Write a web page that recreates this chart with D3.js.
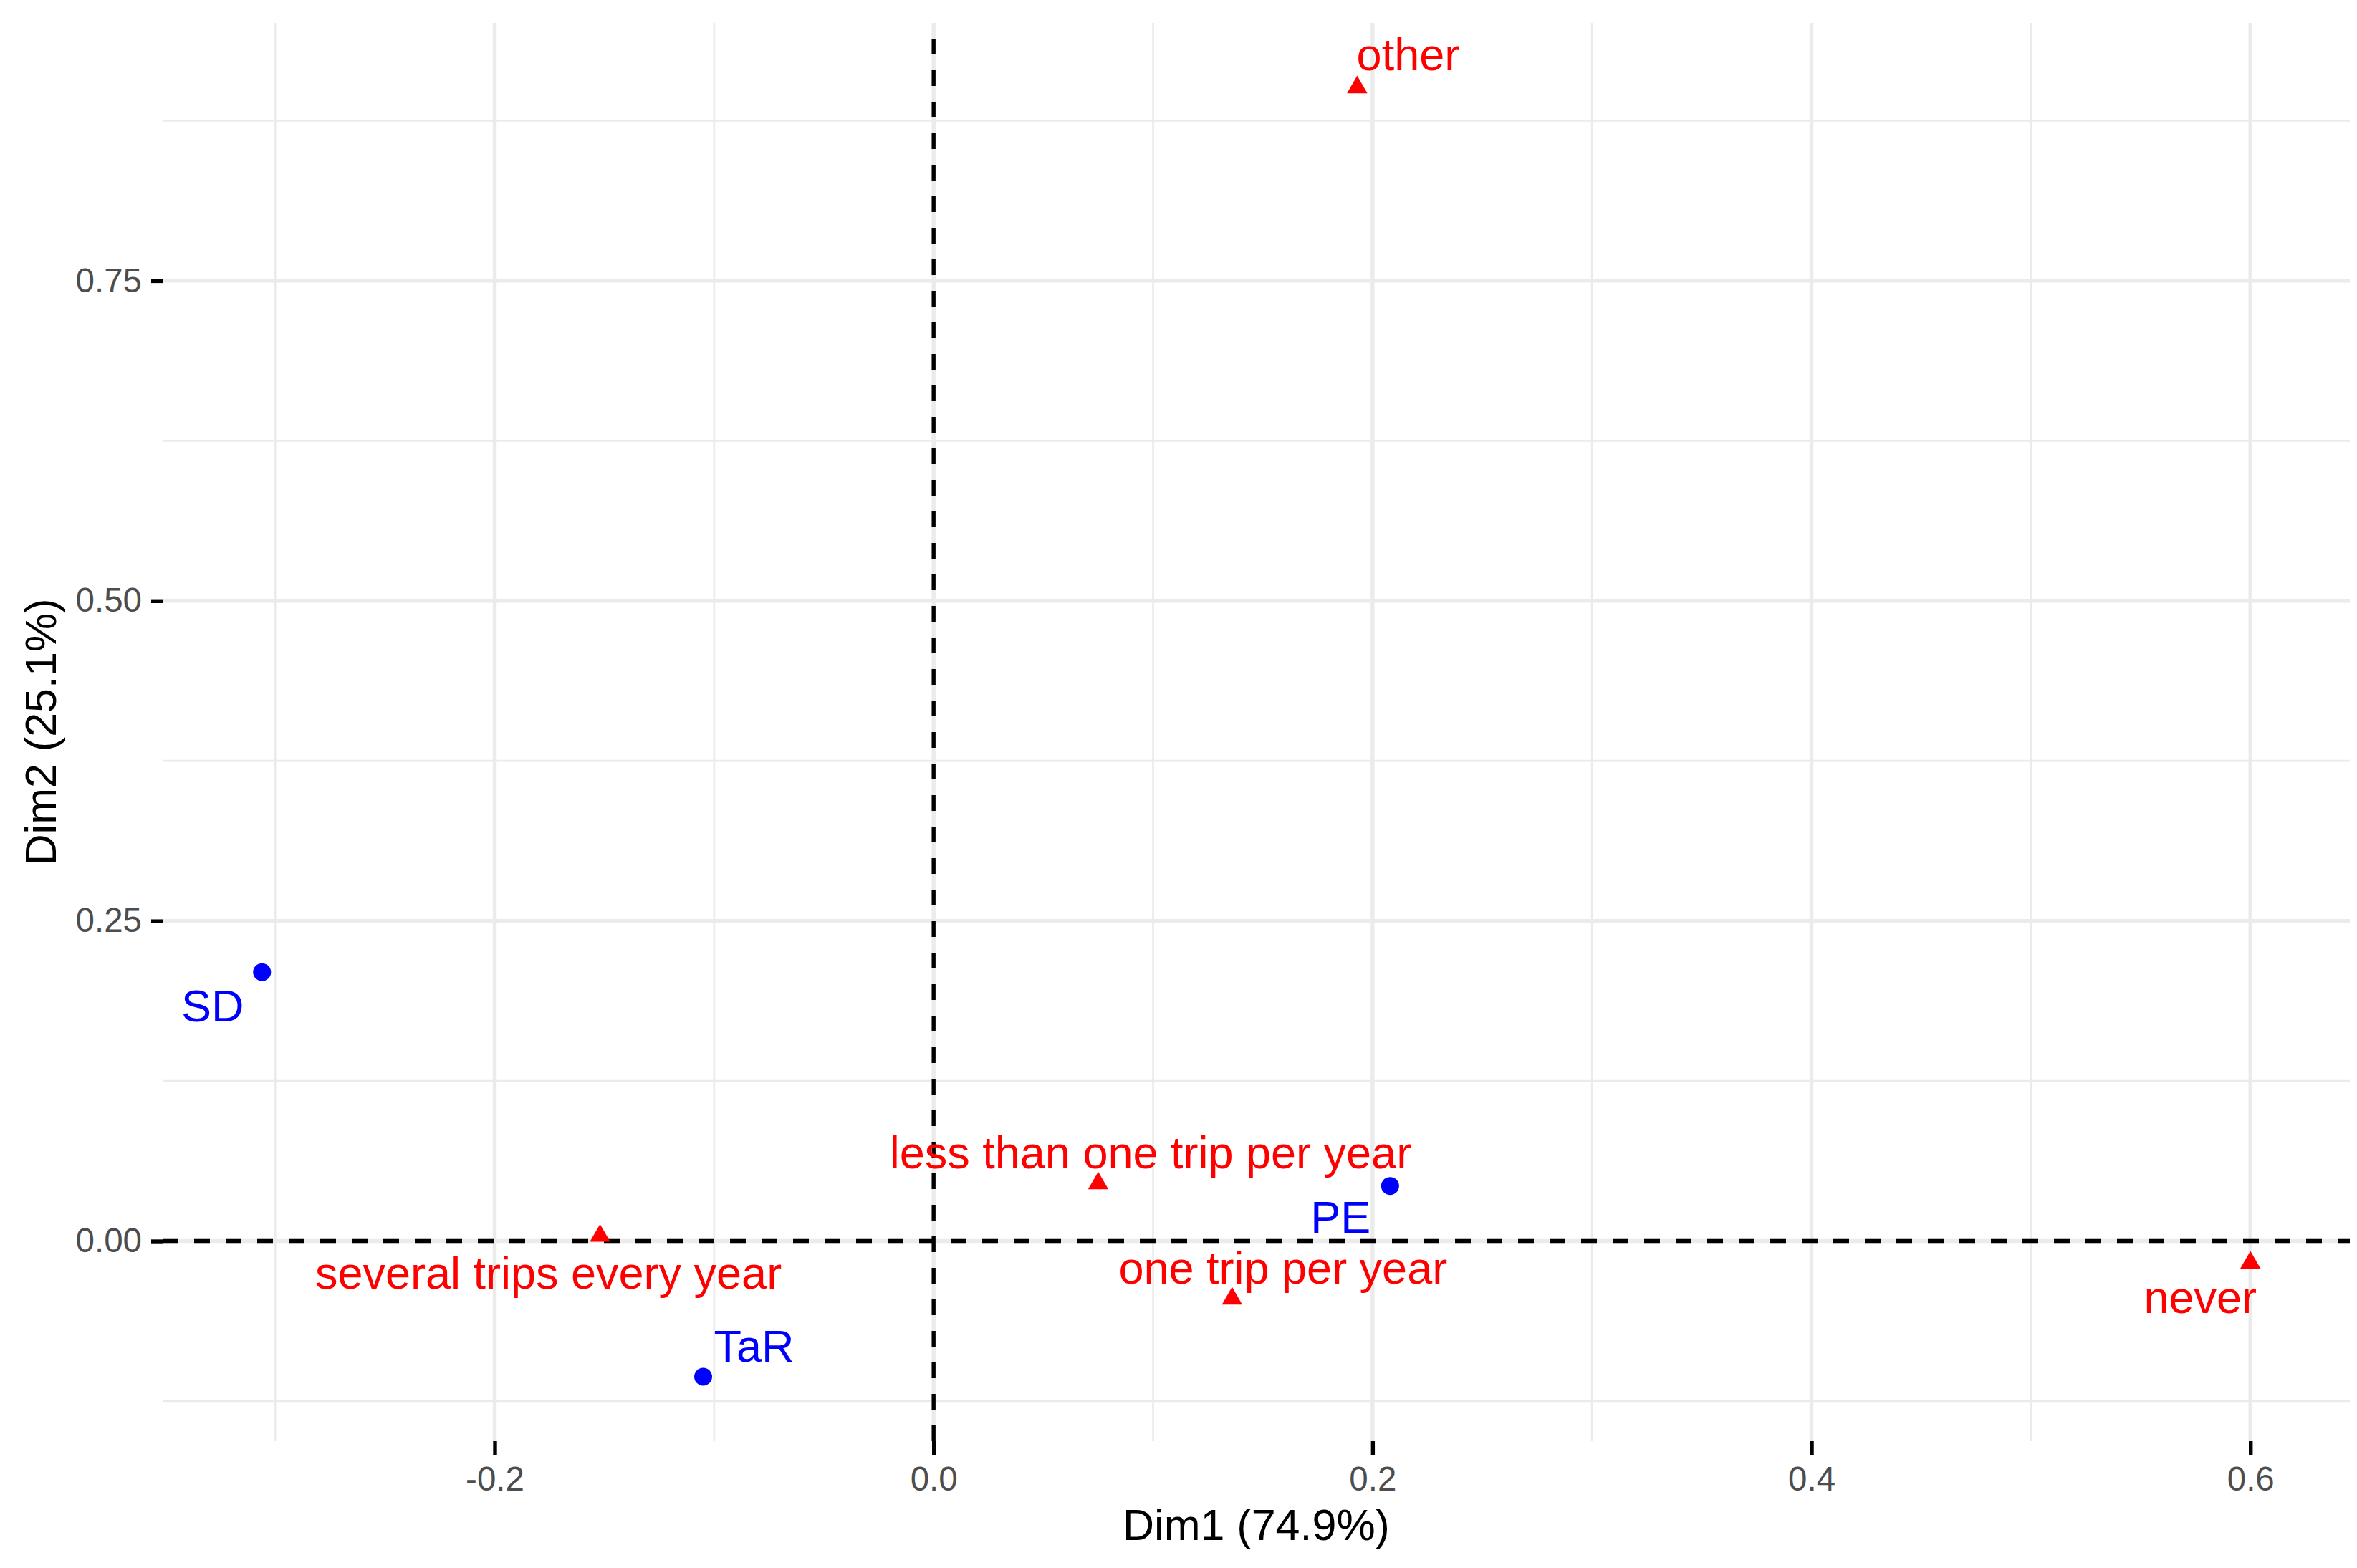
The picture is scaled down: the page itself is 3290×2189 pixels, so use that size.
<!DOCTYPE html>
<html>
<head>
<meta charset="utf-8">
<script src="https://cdn.jsdelivr.net/npm/d3@7"></script>
<style>
  html, body { margin: 0; padding: 0; background: #ffffff; }
  svg { display: block; }
  text { font-family: "Liberation Sans", Arial, Helvetica, sans-serif; }
</style>
</head>
<body>
<script>
// ---------------- data ----------------
const colLabels = ["SD", "TaR", "PE"];
const colX = [-0.306, -0.105, 0.208];
const colY = [0.210, -0.106, 0.043];

const rowLabels = ["other", "less than one trip per year", "several trips every year", "one trip per year", "never"];
const rowX = [0.193, 0.075, -0.152, 0.136, 0.600];
const rowY = [0.901, 0.045, 0.004, -0.045, -0.017];

const xTicks = [-0.2, 0.0, 0.2, 0.4, 0.6];
const xTickLabels = ["-0.2", "0.0", "0.2", "0.4", "0.6"];
const xMinor = [-0.3, -0.1, 0.1, 0.3, 0.5];
const yTicks = [0.0, 0.25, 0.50, 0.75];
const yTickLabels = ["0.00", "0.25", "0.50", "0.75"];
const yMinor = [-0.125, 0.125, 0.375, 0.625, 0.875];

const xTitle = "Dim1 (74.9%)";
const yTitle = "Dim2 (25.1%)";

// ---------------- layout ----------------
const W = 3290, H = 2189;
const panel = { left: 227, right: 3280, top: 32, bottom: 2012 };
// label offsets (pixels, relative to the point: center-x, baseline)
const colLabelOffset = [[-69, 69], [71, -21], [-69, 65]];
const rowLabelOffset = [[71, -24], [73, -21], [-72, 74], [71, -21], [-70, 70]];

const RED = "#FF0000", BLUE = "#0000FF", GRID = "#EBEBEB";

function expand(vals) {
  const lo = d3.min(vals), hi = d3.max(vals), r = hi - lo;
  return [lo - 0.05 * r, hi + 0.05 * r];
}
const x = d3.scaleLinear().domain(expand(colX.concat(rowX))).range([panel.left, panel.right]);
const y = d3.scaleLinear().domain(expand(colY.concat(rowY))).range([panel.bottom, panel.top]);

const svg = d3.select("body").append("svg").attr("width", W).attr("height", H);
svg.append("rect").attr("width", W).attr("height", H).attr("fill", "#fff");

const grid = svg.append("g");
// minor grid
grid.selectAll(".xminor").data(xMinor).enter().append("line")
  .attr("x1", d => x(d)).attr("x2", d => x(d)).attr("y1", panel.top).attr("y2", panel.bottom)
  .attr("stroke", GRID).attr("stroke-width", 2.7);
grid.selectAll(".yminor").data(yMinor).enter().append("line")
  .attr("y1", d => y(d)).attr("y2", d => y(d)).attr("x1", panel.left).attr("x2", panel.right)
  .attr("stroke", GRID).attr("stroke-width", 2.7);
// major grid
grid.selectAll(".xmajor").data(xTicks).enter().append("line")
  .attr("x1", d => x(d)).attr("x2", d => x(d)).attr("y1", panel.top).attr("y2", panel.bottom)
  .attr("stroke", GRID).attr("stroke-width", 5.4);
grid.selectAll(".ymajor").data(yTicks).enter().append("line")
  .attr("y1", d => y(d)).attr("y2", d => y(d)).attr("x1", panel.left).attr("x2", panel.right)
  .attr("stroke", GRID).attr("stroke-width", 5.4);

// axes
const xAxis = d3.axisBottom(x).tickValues(xTicks).tickFormat((d, i) => xTickLabels[i])
  .tickSizeInner(19).tickSizeOuter(0).tickPadding(16);
const gx = svg.append("g").attr("transform", `translate(0,${panel.bottom})`).call(xAxis);
gx.select(".domain").remove();
gx.selectAll(".tick line").attr("stroke", "#000").attr("stroke-width", 5.4);
gx.selectAll(".tick text").attr("fill", "#4D4D4D").attr("font-size", 47.5)
  .attr("font-family", "Liberation Sans, Arial, sans-serif");

const yAxis = d3.axisLeft(y).tickValues(yTicks).tickFormat((d, i) => yTickLabels[i])
  .tickSizeInner(16).tickSizeOuter(0).tickPadding(13);
const gy = svg.append("g").attr("transform", `translate(${panel.left},0)`).call(yAxis);
gy.select(".domain").remove();
gy.selectAll(".tick line").attr("stroke", "#000").attr("stroke-width", 5.4);
gy.selectAll(".tick text").attr("fill", "#4D4D4D").attr("font-size", 47.5)
  .attr("font-family", "Liberation Sans, Arial, sans-serif");

// reference dashed lines
svg.append("line")
  .attr("x1", panel.left).attr("x2", panel.right).attr("y1", y(0)).attr("y2", y(0))
  .attr("stroke", "#000").attr("stroke-width", 5.4).attr("stroke-dasharray", "22,22");
svg.append("line")
  .attr("x1", x(0)).attr("x2", x(0)).attr("y1", panel.bottom).attr("y2", panel.top)
  .attr("stroke", "#000").attr("stroke-width", 5.4).attr("stroke-dasharray", "22,22");

// points
const cols = colLabels.map((l, i) => ({ label: l, x: colX[i], y: colY[i], off: colLabelOffset[i] }));
const rows = rowLabels.map((l, i) => ({ label: l, x: rowX[i], y: rowY[i], off: rowLabelOffset[i] }));

svg.append("g").selectAll("circle").data(cols).enter().append("circle")
  .attr("cx", d => x(d.x)).attr("cy", d => y(d.y)).attr("r", 12.5).attr("fill", BLUE);

const tri = d3.symbol().type(d3.symbolTriangle).size(350);
svg.append("g").selectAll("path").data(rows).enter().append("path")
  .attr("d", tri).attr("transform", d => `translate(${x(d.x)},${y(d.y)})`).attr("fill", RED);

// labels
svg.append("g").selectAll("text").data(cols).enter().append("text")
  .attr("x", d => x(d.x) + d.off[0]).attr("y", d => y(d.y) + d.off[1])
  .attr("text-anchor", "middle").attr("font-size", 63).attr("fill", BLUE).text(d => d.label);
svg.append("g").selectAll("text").data(rows).enter().append("text")
  .attr("x", d => x(d.x) + d.off[0]).attr("y", d => y(d.y) + d.off[1])
  .attr("text-anchor", "middle").attr("font-size", 63).attr("fill", RED).text(d => d.label);

// axis titles
svg.append("text").attr("x", (panel.left + panel.right) / 2).attr("y", 2150)
  .attr("text-anchor", "middle").attr("font-size", 61).attr("fill", "#000").text(xTitle);
svg.append("text").attr("transform", `translate(78,${(panel.top + panel.bottom) / 2}) rotate(-90)`)
  .attr("text-anchor", "middle").attr("font-size", 61).attr("fill", "#000").text(yTitle);
</script>
</body>
</html>
